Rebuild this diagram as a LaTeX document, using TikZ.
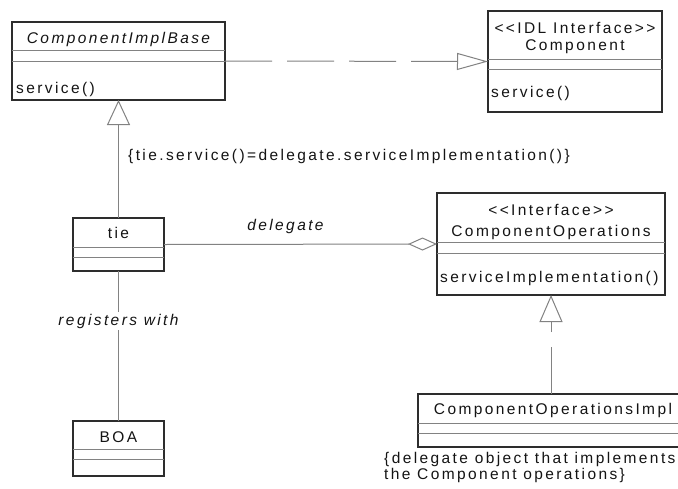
\documentclass[tikz,border=0pt]{standalone}
\usepackage{fontspec}
\setmainfont{Liberation Sans}[LetterSpace=15.5]
\usetikzlibrary{arrows.meta,calc}
\definecolor{boxline}{RGB}{45,45,45}
\definecolor{connline}{RGB}{130,130,130}
\definecolor{txt}{RGB}{20,20,20}
\tikzset{
  umlbox/.style={draw=boxline, line width=1.2pt, outer sep=0pt, inner sep=0pt, anchor=north west},
  sepline/.style={draw=connline, line width=1pt},
  conn/.style={draw=connline, line width=1pt},
  dashpat/.style={dash pattern=on 47pt off 15pt},
  lbl/.style={font=\fontsize{15.5}{18}\selectfont, text=txt, inner sep=1pt},
  ilbl/.style={lbl, font=\fontsize{15.5}{18}\selectfont\itshape},
  realtip/.style={-{Triangle[open,length=#1,width=17pt,line width=1pt]}},
}
\newcommand\umlclass[7]{%
  \node[umlbox, minimum width=#4pt, minimum height=#5pt] (#1) at (#2,#3) {};
  \draw[sepline] ($(#1.north west)+(0,#6)$) -- ($(#1.north east)+(0,#6)$);
  \draw[sepline] ($(#1.north west)+(0,#7)$) -- ($(#1.north east)+(0,#7)$);
}
\begin{document}
\begin{tikzpicture}[x=1pt,y=-1pt]
\useasboundingbox (0,0) rectangle (678,488);
\clip (0,0) rectangle (678,488);
\fill[white] (0,0) rectangle (678,488);

% classes
\umlclass{A}{12}{22}{213}{78}{28}{39}
\umlclass{B}{488}{11}{174}{101}{48}{58}
\umlclass{T}{73}{218}{91}{53}{29}{39}
\umlclass{BOA}{73}{421}{91}{55}{28}{38}
\umlclass{CO}{437}{193}{228}{102}{49}{60}
\umlclass{COI}{418}{394}{270}{53}{29}{39}

% class texts
\node[ilbl, anchor=base] (tA) at (118.5,43) {ComponentImplBase};
\node[lbl, anchor=base west] (mA) at (15,93) {service()};
\node[lbl, anchor=base] (sB) at (575,33) {<{}<IDL Interface>{}>};
\node[lbl, anchor=base] (tB) at (575,50) {Component};
\node[lbl, anchor=base west] (mB) at (490,97) {service()};
\node[lbl, anchor=base] (tT) at (118.5,238) {tie};
\node[lbl, anchor=base] (tBOA) at (118.5,442) {BOA};
\node[lbl, anchor=base] (sCO) at (551,215) {<{}<Interface>{}>};
\node[lbl, anchor=base] (tCO) at (551,236) {ComponentOperations};
\node[lbl, anchor=base west] (mCO) at (439,282) {serviceImplementation()};
\node[lbl, anchor=base] (tCOI) at (553,414) {ComponentOperationsImpl};

% constraint and note
\node[lbl, anchor=base west] (cons) at (127,160) {\{tie.service()=delegate.serviceImplementation()\}};
\node[lbl, anchor=base west] (note1) at (383,463) {\{delegate object that implements};
\node[lbl, anchor=base west] (note2) at (383,479) {the Component operations\}};

% connectors
\draw[conn, dashpat, realtip=31pt] (A.east) -- (B.west);
\draw[conn, -{Triangle[open,length=25pt,width=23pt,line width=1pt]}] (T.north) -- (A.south);
\draw[conn, -{Diamond[open,length=29pt,width=13pt,line width=1pt]}] (T.east) --
  node[ilbl, pos=0.445, anchor=base, yshift=14pt] (dlg) {delegate} (CO.west);
\draw[conn] (T.south) -- node[ilbl, pos=0.327, anchor=base, yshift=-5pt, fill=white, inner sep=2pt] (reg) {registers with} (BOA.north);
\draw[conn, dashpat, -{Triangle[open,length=27pt,width=23pt,line width=1pt]}] (CO.south |- COI.north) -- (CO.south);
\end{tikzpicture}
\end{document}
